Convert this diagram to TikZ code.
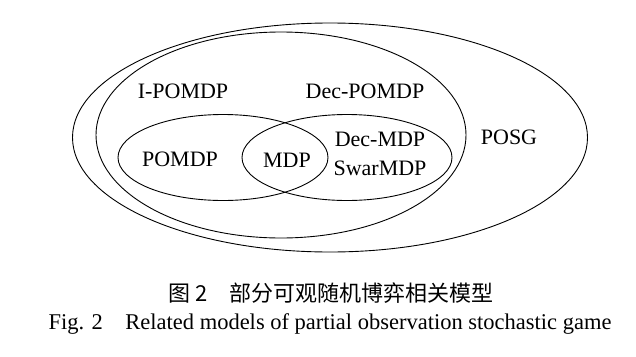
\documentclass[tikz,border=0pt]{standalone}
\usepackage{fontspec}
\setmainfont{Liberation Serif}
\newfontfamily\cjk{Noto Sans CJK SC}
\begin{document}
\begin{tikzpicture}[x=1pt, y=-1pt,
  setline/.style={draw, line width=0.9pt},
  lbl/.style={font=\fontsize{22}{29}\selectfont, inner sep=0pt},
  captext/.style={font=\fontsize{22.5}{27}\selectfont, inner sep=0pt, anchor=base}]
\useasboundingbox (0,0) rectangle (636,356);
% nested model sets
\draw[setline] (330,137.5) ellipse [x radius=257.5, y radius=114.5];
\draw[setline] (281,135) ellipse [x radius=185, y radius=103];
\draw[setline] (223,157.5) ellipse [x radius=105, y radius=43];
\draw[setline] (347,157.5) ellipse [x radius=105, y radius=43];

\node[lbl] (posg) at (509,137) {POSG};
\node[lbl] (ipomdp) at (183,91) {I-POMDP};
\node[lbl] (decpomdp) at (365,91) {Dec-POMDP};
\node[lbl] (pomdp) at (180,159) {POMDP};
\node[lbl] (mdp) at (287,160) {MDP};
\node[lbl, align=center] (decmdp) at (380,154) {Dec-MDP\\SwarMDP};

% captions
\node[captext, font=\cjk\fontsize{22}{27}\selectfont] (capzh) at (331,301) {图 2\quad 部分可观随机博弈相关模型};
\node[captext] (capen) at (330,329) {Fig. 2\quad Related models of partial observation stochastic game};
\end{tikzpicture}
\end{document}
